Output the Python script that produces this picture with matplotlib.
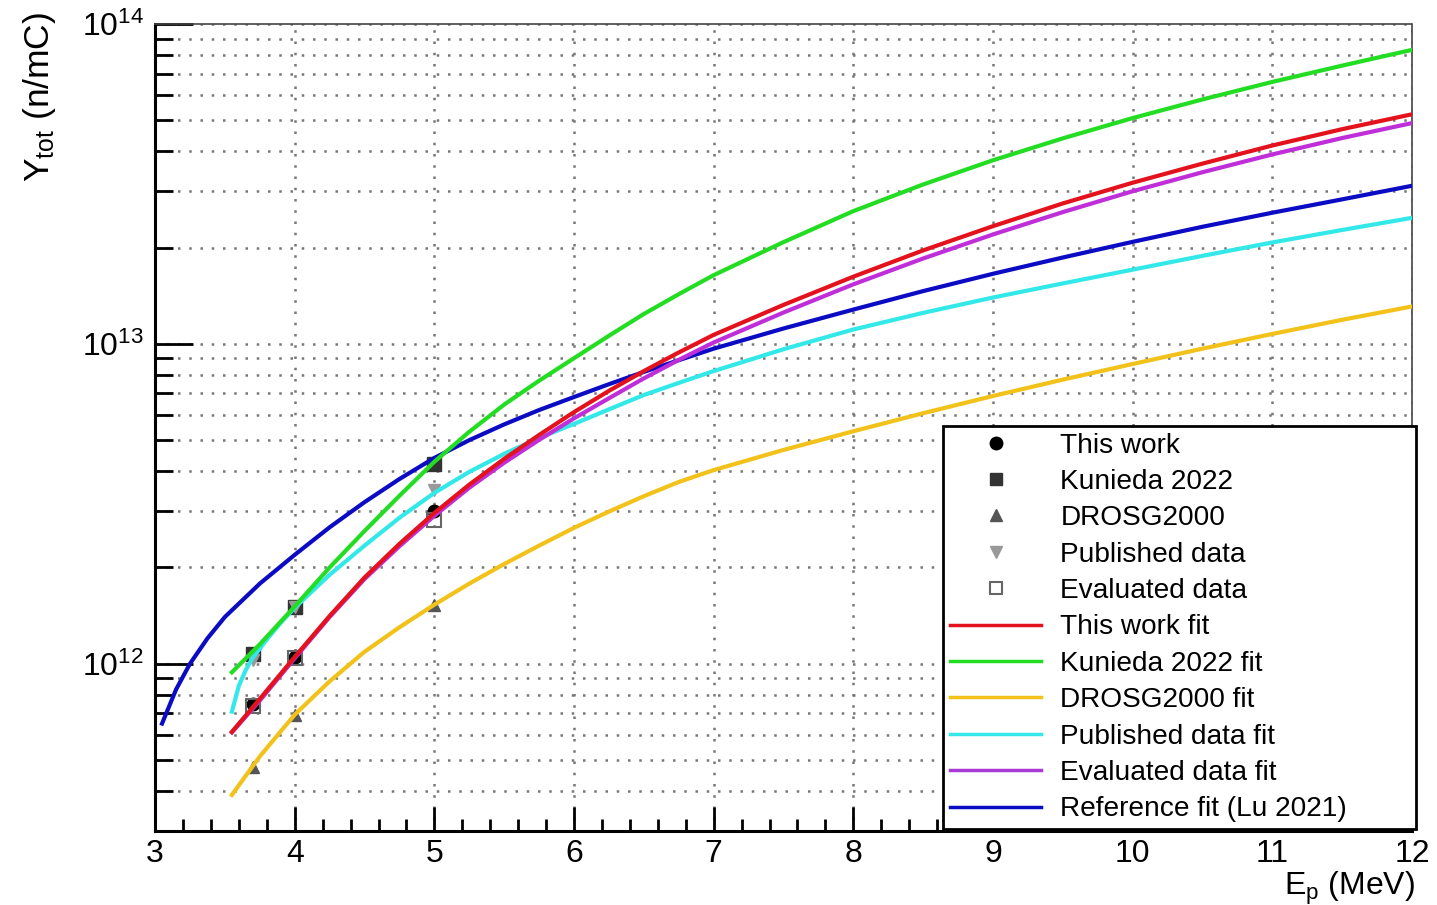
import matplotlib
matplotlib.use("Agg")
import matplotlib.pyplot as plt
from matplotlib.ticker import MultipleLocator, LogLocator, NullFormatter, FixedLocator
from matplotlib.lines import Line2D

plt.rcParams['font.family'] = ['Liberation Sans', 'DejaVu Sans']
plt.rcParams['mathtext.fontset'] = 'custom'
plt.rcParams['mathtext.rm'] = 'Liberation Sans'
plt.rcParams['mathtext.it'] = 'Liberation Sans:italic'

# measured points (E_p in MeV, yield in n/mC)
meas_E = [3.7, 4.0, 5.0]
this_work_Y = [7.5e11, 1.05e12, 3.0e12]
kunieda_Y = [1.07e12, 1.5e12, 4.2e12]
drosg_Y = [4.76e11, 6.93e11, 1.53e12]
published_Y = [1.03e12, 1.5e12, 3.5e12]
evaluated_Y = [7.4e11, 1.04e12, 2.82e12]

# fit curves
fit_E = [3.55, 3.75, 4.0, 4.25, 4.5, 4.75, 5.0, 5.25, 5.5, 5.75, 6.0, 6.25,
         6.5, 6.75, 7.0, 7.5, 8.0, 8.5, 9.0, 9.5, 10.0, 10.5, 11.0, 11.5, 12.0]
this_work_fit = [6.12e11, 7.76e11, 1.05e12, 1.41e12, 1.86e12, 2.37e12, 2.96e12,
                 3.63e12, 4.37e12, 5.19e12, 6.12e12, 7.13e12, 8.22e12, 9.4e12,
                 1.067e13, 1.324e13, 1.622e13, 1.96e13, 2.333e13, 2.748e13,
                 3.19e13, 3.66e13, 4.17e13, 4.69e13, 5.22e13]
evaluated_fit = [6.1e11, 7.67e11, 1.04e12, 1.4e12, 1.84e12, 2.33e12, 2.9e12,
                 3.55e12, 4.25e12, 5.01e12, 5.85e12, 6.76e12, 7.8e12, 8.91e12,
                 1.01e13, 1.253e13, 1.535e13, 1.849e13, 2.198e13, 2.582e13,
                 3.0e13, 3.44e13, 3.91e13, 4.4e13, 4.9e13]
kunieda_fit = [9.4e11, 1.15e12, 1.51e12, 2.0e12, 2.6e12, 3.35e12, 4.28e12,
               5.31e12, 6.46e12, 7.67e12, 9.02e12, 1.06e13, 1.24e13, 1.43e13,
               1.64e13, 2.08e13, 2.6e13, 3.15e13, 3.75e13, 4.39e13, 5.08e13,
               5.81e13, 6.59e13, 7.41e13, 8.3e13]
drosg_fit = [3.89e11, 5.13e11, 6.93e11, 8.81e11, 1.09e12, 1.3e12, 1.53e12,
             1.78e12, 2.05e12, 2.34e12, 2.66e12, 2.99e12, 3.34e12, 3.7e12,
             4.03e12, 4.66e12, 5.33e12, 6.07e12, 6.87e12, 7.73e12, 8.65e12,
             9.66e12, 1.074e13, 1.189e13, 1.309e13]
published_E = [3.55, 3.6, 3.65, 3.7, 3.8, 3.9, 4.0, 4.25, 4.5, 4.75, 5.0, 5.25,
               5.5, 5.75, 6.0, 6.25, 6.5, 6.75, 7.0, 7.5, 8.0, 8.5, 9.0, 9.5,
               10.0, 10.5, 11.0, 11.5, 12.0]
published_fit = [7.08e11, 8.53e11, 9.57e11, 1.045e12, 1.19e12, 1.343e12, 1.496e12,
                 1.897e12, 2.34e12, 2.86e12, 3.42e12, 3.98e12, 4.53e12, 5.08e12,
                 5.62e12, 6.24e12, 6.92e12, 7.55e12, 8.22e12, 9.62e12, 1.109e13,
                 1.25e13, 1.396e13, 1.545e13, 1.706e13, 1.884e13, 2.075e13,
                 2.27e13, 2.477e13]
lu_E = [3.05, 3.15, 3.25, 3.375, 3.5, 3.75, 4.0, 4.25, 4.5, 4.75, 5.0, 5.25, 5.5,
        5.75, 6.0, 6.25, 6.5, 6.75, 7.0, 7.5, 8.0, 8.5, 9.0, 9.5, 10.0, 10.5,
        11.0, 11.5, 12.0]
lu_fit = [6.5e11, 8.3e11, 1.0e12, 1.2e12, 1.4e12, 1.78e12, 2.19e12, 2.67e12,
          3.2e12, 3.78e12, 4.4e12, 5.0e12, 5.6e12, 6.21e12, 6.82e12, 7.48e12,
          8.17e12, 8.89e12, 9.66e12, 1.117e13, 1.28e13, 1.462e13, 1.656e13,
          1.862e13, 2.084e13, 2.323e13, 2.57e13, 2.83e13, 3.12e13]

fig = plt.figure(figsize=(14.37, 9.05), dpi=100)
ax = fig.add_axes([0.1079, 0.0818, 0.8747, 0.8917])

# markers first, fits drawn on top
ax.plot(meas_E, kunieda_Y, ls='none', marker='s', ms=10, color='#333333', zorder=3)
ax.plot(meas_E, drosg_Y, ls='none', marker='^', ms=9, color='#555555', zorder=3)
ax.plot(meas_E, published_Y, ls='none', marker='v', ms=9, color='#999999', zorder=3)
ax.plot(meas_E, this_work_Y, ls='none', marker='o', ms=9, color='black', zorder=3)
ax.plot(meas_E, evaluated_Y, ls='none', marker='s', ms=10, mfc='none', mec='#666666',
        mew=1.5, zorder=3)

lw = 3
ax.plot(fit_E, drosg_fit, color='#f2c21b', lw=lw, zorder=4)
ax.plot(published_E, published_fit, color='#33e8e8', lw=lw, zorder=4)
ax.plot(lu_E, lu_fit, color='#0b0bc4', lw=lw, zorder=4)
ax.plot(fit_E, kunieda_fit, color='#22dd22', lw=lw, zorder=4)
ax.plot(fit_E, evaluated_fit, color='#bf2ed8', lw=lw, zorder=4)
ax.plot(fit_E, this_work_fit, color='#e3121c', lw=lw, zorder=4)

ax.set_yscale('log')
ax.set_xlim(3, 12)
ax.set_ylim(3.0e11, 1e14)

ax.xaxis.set_major_locator(MultipleLocator(1))
ax.xaxis.set_minor_locator(MultipleLocator(0.2))
ax.yaxis.set_major_locator(FixedLocator([1e12, 1e13, 1e14]))
ax.yaxis.set_minor_locator(LogLocator(base=10, subs=range(2, 10), numticks=20))
ax.yaxis.set_minor_formatter(NullFormatter())
ax.set_yticklabels([r'$10^{12}$', r'$10^{13}$', r'$10^{14}$'])

ax.tick_params(axis='both', which='both', direction='in', width=2,
               top=False, right=False, labelsize=23)
ax.tick_params(axis='x', which='major', length=17, pad=6)
ax.tick_params(axis='x', which='minor', length=8.5)
ax.tick_params(axis='y', which='major', length=27, pad=8)
ax.tick_params(axis='y', which='minor', length=13)

ax.grid(True, axis='x', which='major', color='#777777', ls=(0, (1, 3.5)), lw=1.8)
ax.grid(True, axis='y', which='both', color='#777777', ls=(0, (1, 3.5)), lw=1.8)
ax.set_axisbelow(True)

for s in ['left', 'bottom']:
    ax.spines[s].set_linewidth(2.2)
for s in ['top', 'right']:
    ax.spines[s].set_linewidth(1.2)
    ax.spines[s].set_color('#444444')
    ax.spines[s].set_linestyle((0, (4, 1)))

fig.text(40 / 1437, 1 - 12 / 905, r'Y$_{\mathrm{tot}}$ (n/mC)', rotation=90,
         ha='center', va='top', fontsize=25.5)
fig.text(1415 / 1437, 10 / 905, r'E$_{\mathrm{p}}$ (MeV)', ha='right',
         va='baseline', fontsize=23)

handles = [
    Line2D([], [], ls='none', marker='o', ms=9, color='black'),
    Line2D([], [], ls='none', marker='s', ms=9, color='#333333'),
    Line2D([], [], ls='none', marker='^', ms=9, color='#555555'),
    Line2D([], [], ls='none', marker='v', ms=9, color='#999999'),
    Line2D([], [], ls='none', marker='s', ms=9, mfc='none', mec='#666666', mew=1.5),
    Line2D([], [], color='#e3121c', lw=2.5),
    Line2D([], [], color='#22dd22', lw=2.5),
    Line2D([], [], color='#f2c21b', lw=2.5),
    Line2D([], [], color='#33e8e8', lw=2.5),
    Line2D([], [], color='#a93ad6', lw=2.5),
    Line2D([], [], color='#0b0bc4', lw=2.5),
]
labels = ['This work', 'Kunieda 2022', 'DROSG2000', 'Published data',
          'Evaluated data', 'This work fit', 'Kunieda 2022 fit', 'DROSG2000 fit',
          'Published data fit', 'Evaluated data fit', 'Reference fit (Lu 2021)']
leg = ax.legend(handles, labels, loc='lower left',
                bbox_to_anchor=(0.627, 0.002, 0.376, 0.5), mode='expand',
                fontsize=20.2, frameon=True, fancybox=False, framealpha=1,
                edgecolor='black', handlelength=3.25, handletextpad=0.68,
                labelspacing=0.37, borderpad=0.25, borderaxespad=0)
leg.get_frame().set_linewidth(2)
leg.set_zorder(10)

fig.savefig('out.png', dpi=100)
